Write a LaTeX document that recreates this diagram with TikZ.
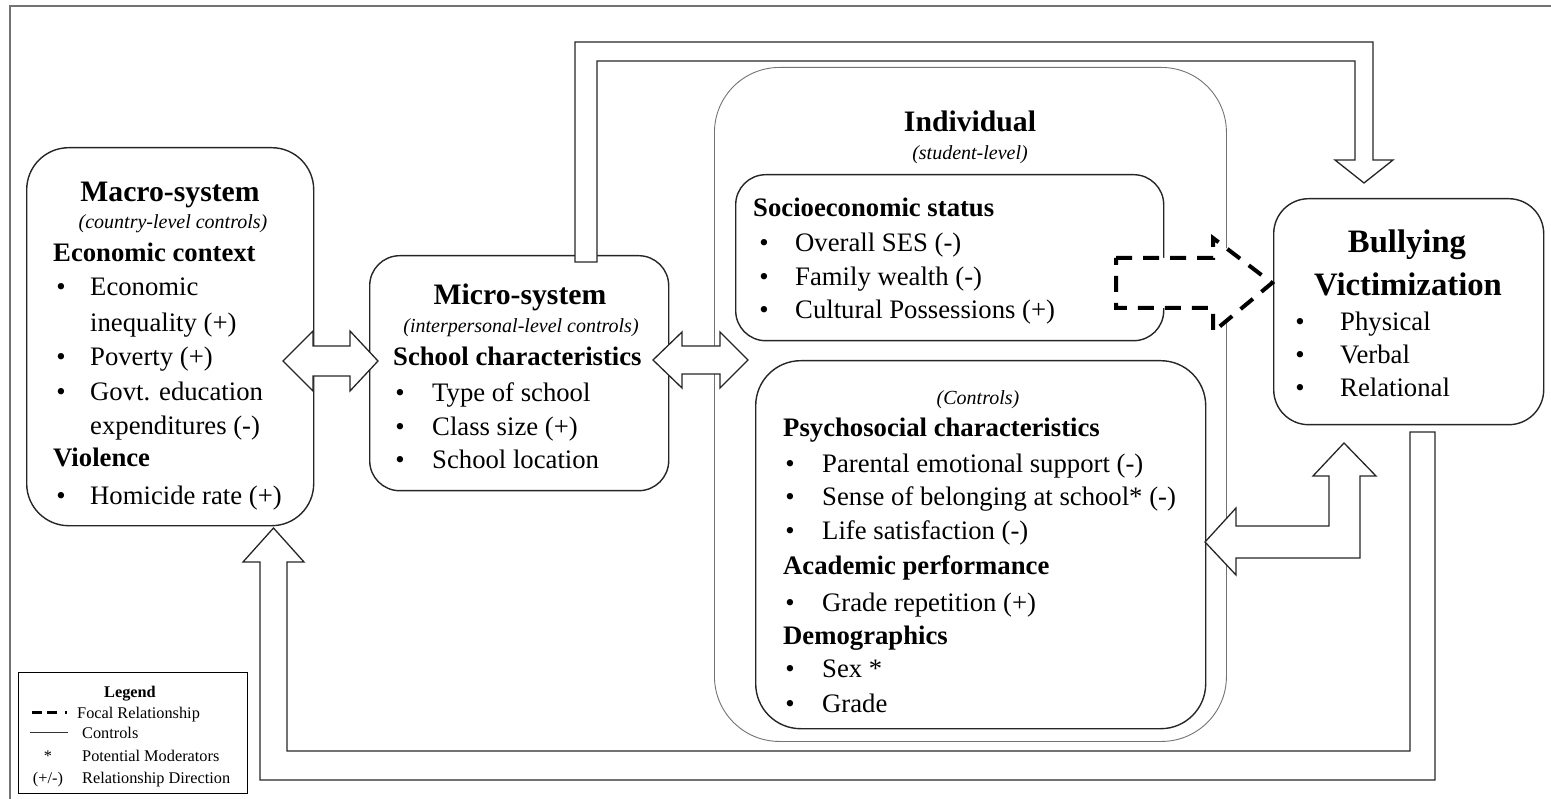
\documentclass[tikz,border=0pt]{standalone}
\usepackage{fontspec}
\setmainfont{Liberation Serif}
\begin{document}
\begin{tikzpicture}[x=1pt,y=-1pt,
  box/.style={draw=black!85, line width=1.4pt, inner sep=0pt, anchor=north west},
  thinbox/.style={draw=black!55, line width=0.9pt, inner sep=0pt, anchor=north west},
  tb/.style={font=\fontsize{26.7}{32}\selectfont, inner sep=0pt, anchor=base west},
  hd/.style={font=\bfseries\fontsize{26.7}{32}\selectfont, inner sep=0pt, anchor=base west},
  ttl/.style={font=\bfseries\fontsize{29.7}{34}\selectfont, inner sep=0pt, anchor=base},
  bigttl/.style={font=\bfseries\fontsize{32.7}{38}\selectfont, inner sep=0pt, anchor=base},
  sub/.style={font=\itshape\fontsize{20}{24}\selectfont, inner sep=0pt, anchor=base},
  bul/.style={font=\fontsize{26.7}{32}\selectfont, inner sep=0pt, anchor=base},
  blk/.style={draw=black!85, line width=1.3pt, fill=white, line join=miter},
  lg/.style={font=\fontsize{16.3}{20}\selectfont, inner sep=0pt, anchor=base west},
  lgc/.style={font=\fontsize{16.3}{20}\selectfont, inner sep=0pt, anchor=base}
]
\useasboundingbox (0,0) rectangle (1551,799);
% outer frame
\draw[black!55, line width=2pt] (9.5,799) -- (9.5,6.5) -- (1551,6.5);

% boxes
\node[box, rounded corners=42pt, minimum width=287pt, minimum height=378pt] (macro) at (26,147) {};
\node[box, rounded corners=30pt, minimum width=299pt, minimum height=235pt] (micro) at (369,255) {};
\node[thinbox, rounded corners=65pt, minimum width=512pt, minimum height=674pt] (indiv) at (714,67) {};
\node[box, rounded corners=30pt, minimum width=428pt, minimum height=166pt] (ses) at (735,174) {};
\node[box, rounded corners=45pt, minimum width=450pt, minimum height=368pt] (ctrl) at (755,360) {};
\node[box, rounded corners=35pt, minimum width=270pt, minimum height=226pt] (bully) at (1273,198) {};

% top arrow micro -> bullying
\draw[blk] (575,262) -- (575,42) -- (1373,42) -- (1373,160) -- (1393,160) -- (1364,183)
  -- (1335,160) -- (1355,160) -- (1355,61) -- (597,61) -- (597,262) -- cycle;
% macro <-> micro
\draw[blk] (283,361) -- (313,331) -- (313,346) -- (350,346) -- (350,331) -- (378,361)
  -- (350,391) -- (350,376) -- (313,376) -- (313,391) -- cycle;
% micro <-> individual
\draw[blk] (653,360) -- (682,332) -- (682,346) -- (720,346) -- (720,332) -- (748,360)
  -- (720,388) -- (720,374) -- (682,374) -- (682,388) -- cycle;
% focal dashed arrow SES -> bullying
\draw[draw=black, fill=white, line width=4pt, dash pattern=on 16pt off 11pt, line join=miter]
  (1116,258) -- (1213,258) -- (1213,238) -- (1272,283) -- (1213,332) -- (1213,308) -- (1116,308) -- cycle;
% bullying <-> controls bent arrow
\draw[blk] (1205,542) -- (1236,508) -- (1236,526) -- (1329,526) -- (1329,476) -- (1313,476)
  -- (1344,443) -- (1376,476) -- (1360,476) -- (1360,558) -- (1236,558) -- (1236,575) -- cycle;
% loop arrow bullying -> macro
\draw[blk, fill=none] (1410,432) -- (1435,432) -- (1435,780) -- (260,780) -- (260,562) -- (243,562)
  -- (273.5,528) -- (304,562) -- (287,562) -- (287,751) -- (1410,751) -- cycle;

% Macro text
\node[ttl] (mt) at (170,202) {Macro-system};
\node[sub] (ms) at (173,229) {(country-level controls)};
\node[hd] (mh1) at (53,262) {Economic context};
\node[bul] (mb1) at (61,296) {•};
\node[tb] (mi1) at (90,296) {Economic};
\node[tb] (mi1b) at (90,332) {inequality (+)};
\node[bul] (mb2) at (61,366) {•};
\node[tb] (mi2) at (90,366) {Poverty (+)};
\node[bul] (mb3) at (61,401) {•};
\node[tb] (mi3) at (90,401) {Govt. education};
\node[tb] (mi3b) at (90,435) {expenditures (-)};
\node[hd] (mh2) at (53,467) {Violence};
\node[bul] (mb4) at (61,504) {•};
\node[tb] (mi4) at (90,504) {Homicide rate (+)};

% Micro text
\node[ttl] (it) at (520,305) {Micro-system};
\node[sub] (is) at (521,333) {(interpersonal-level controls)};
\node[hd] (ih) at (393,366) {School characteristics};
\node[bul] (ib1) at (400,402) {•};
\node[tb] (ii1) at (432,402) {Type of school};
\node[bul] (ib2) at (400,436) {•};
\node[tb] (ii2) at (432,436) {Class size (+)};
\node[bul] (ib3) at (400,469) {•};
\node[tb] (ii3) at (432,469) {School location};

% Individual text
\node[ttl] (vt) at (970,132) {Individual};
\node[sub] (vs) at (970,160) {(student-level)};
\node[hd] (sh) at (753,217) {Socioeconomic status};
\node[bul] (sb1) at (764,252) {•};
\node[tb] (si1) at (795,252) {Overall SES (-)};
\node[bul] (sb2) at (764,286) {•};
\node[tb] (si2) at (795,286) {Family wealth (-)};
\node[bul] (sb3) at (764,319) {•};
\node[tb] (si3) at (795,319) {Cultural Possessions (+)};

\node[sub] (cs) at (978,405) {(Controls)};
\node[hd] (ch1) at (783,437) {Psychosocial characteristics};
\node[bul] (cb1) at (790,472) {•};
\node[tb] (ci1) at (822,472) {Parental emotional support (-)};
\node[bul] (cb2) at (790,506) {•};
\node[tb] (ci2) at (822,506) {Sense of belonging at school* (-)};
\node[bul] (cb3) at (790,539) {•};
\node[tb] (ci3) at (822,539) {Life satisfaction (-)};
\node[hd] (ch2) at (783,574) {Academic performance};
\node[bul] (cb4) at (790,611) {•};
\node[tb] (ci4) at (822,611) {Grade repetition (+)};
\node[hd] (ch3) at (783,644) {Demographics};
\node[bul] (cb5) at (790,677) {•};
\node[tb] (ci5) at (822,677) {Sex *};
\node[bul] (cb6) at (790,712) {•};
\node[tb] (ci6) at (822,712) {Grade};

% Bullying text
\node[bigttl] (bt1) at (1407,253) {Bullying};
\node[bigttl] (bt2) at (1408,296) {Victimization};
\node[bul] (bb1) at (1300,331) {•};
\node[tb] (bi1) at (1340,331) {Physical};
\node[bul] (bb2) at (1300,364) {•};
\node[tb] (bi2) at (1340,364) {Verbal};
\node[bul] (bb3) at (1300,397) {•};
\node[tb] (bi3) at (1340,397) {Relational};

% Legend
\node[draw=black, line width=1.3pt, inner sep=0pt, anchor=north west, minimum width=229pt, minimum height=121pt] (legend) at (18,672) {};
\node[font=\bfseries\fontsize{16.3}{20}\selectfont, inner sep=0pt, anchor=base] (lt) at (130,697) {Legend};
\coordinate (ld1) at (32,712);
\coordinate (ld2) at (69,712);
\draw[black, line width=3pt, dash pattern=on 10pt off 5pt on 10pt off 8pt on 1.5pt off 20pt] (ld1) -- (ld2);
\node[lg] (l1) at (77,718) {Focal Relationship};
\coordinate (lc1) at (30,732);
\coordinate (lc2) at (68,732);
\draw[black!80, line width=0.8pt] (lc1) -- (lc2);
\node[lg] (l2) at (82,738) {Controls};
\node[lgc] (l3s) at (48,761) {*};
\node[lg] (l3) at (82,761) {Potential Moderators};
\node[lgc] (l4s) at (48,783) {(+/-)};
\node[lg] (l4) at (82,783) {Relationship Direction};
\end{tikzpicture}
\end{document}
